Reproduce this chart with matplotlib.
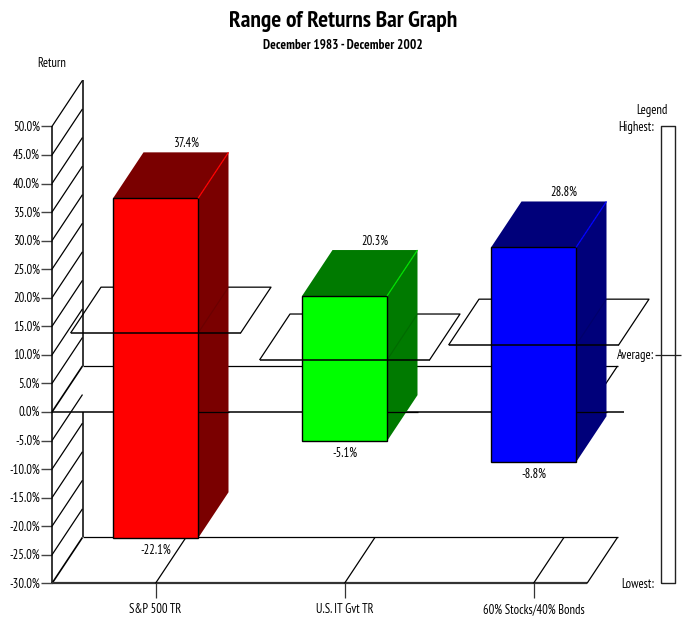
import matplotlib
matplotlib.use("Agg")
import matplotlib.pyplot as plt
from matplotlib.patches import Polygon

# Range of returns per portfolio, December 1983 - December 2002
categories = ["S&P 500 TR", "U.S. IT Gvt TR", "60% Stocks/40% Bonds"]
highest = [37.4, 20.3, 28.8]
lowest = [-22.1, -5.1, -8.8]
average = [13.8, 9.1, 11.7]
front_colors = ["#ff0000", "#00ff00", "#0000ff"]
shade_colors = ["#7a0000", "#007a00", "#00007a"]
edge_colors = ["#ff0000", "#00e000", "#0000ff"]
value_ticks = list(range(-30, 55, 5))

# Pseudo-3D geometry, in axis units
DX = 30.5 / 189
DV = 46 / 5.7125
BAR_HALF = 42.5 / 189
PLANE_HALF = 85 / 189
WALL_X = (52 - 155.5) / 189
FLOOR_END = (587 - 155.5) / 189
ZERO_END = (624 - 155.5) / 189
LW = 0.9
LABEL_SIZE = 9
LABEL_COLOR = "#000000"
TEXT_NUDGE = -0.8 / 5.7125

plt.rcParams["font.family"] = ["PT Sans Narrow", "Archivo Narrow", "Liberation Sans"]

fig = plt.figure(figsize=(6.83, 6.18), dpi=100)
ax = fig.add_axes([0, 0, 1, 1])
ax.set_xlim(-155.5 / 189, (683 - 155.5) / 189)
ax.set_ylim((412 - 618) / 5.7125, 412 / 5.7125)
ax.axis("off")


def xpx(px):
    return (px - 155.5) / 189


def seg(xs, ys, lw=LW, color="black", z=1, **kw):
    ax.plot(xs, ys, color=color, lw=lw, solid_capstyle="butt", zorder=z, **kw)


def label(x, y, s, ha="center", z=7):
    ax.text(x, y + TEXT_NUDGE, s, ha=ha, va="center", fontsize=LABEL_SIZE,
            color=LABEL_COLOR, zorder=z)


# Back wall with a diagonal rule for every tick
for v in value_ticks:
    seg([WALL_X, WALL_X + DX], [v, v + DV], lw=1.2 if v in (0, -30) else LW)
    seg([xpx(41), WALL_X], [v, v], color="#444444", lw=1.0)
    label(xpx(40), v, f"{v:.1f}%", ha="right")
seg([WALL_X, WALL_X], [-30, 50], lw=1.1)
seg([WALL_X + DX] * 2, [DV, 50 + DV], lw=1.1)
seg([WALL_X + DX] * 2, [-30 + DV, 0], lw=1.1)

# Floor of the chart
seg([WALL_X, FLOOR_END], [-30, -30], lw=1.6, color="#333333")
seg([WALL_X + DX, FLOOR_END + DX], [-30 + DV] * 2)
seg([FLOOR_END, FLOOR_END + DX], [-30, -30 + DV])

# Zero plane
seg([WALL_X, ZERO_END], [0, 0], lw=1.1)
seg([WALL_X + DX, FLOOR_END + DX], [DV, DV])
seg([FLOOR_END, FLOOR_END + DX], [0, DV])

# Category ticks along the floor
for i, name in enumerate(categories):
    seg([i, i + DX], [-30, -30 + DV])
    seg([i, i], [-30, -30 - 15 / 5.7125], color="#333333")
    label(i, -30 - 25 / 5.7125, name)

# Average planes, back and side edges sit behind the bars
for i, avg in enumerate(average):
    xl, xr = i - PLANE_HALF, i + PLANE_HALF
    seg([xl, xl + DX, xr + DX, xr], [avg, avg + DV, avg + DV, avg], z=2)

# Bars with their top and side faces
for i, (hi, lo) in enumerate(zip(highest, lowest)):
    xl, xr = i - BAR_HALF, i + BAR_HALF
    ax.add_patch(Polygon([(xl, hi), (xr, hi), (xr + DX, hi + DV), (xl + DX, hi + DV)],
                         fc=shade_colors[i], ec="none", zorder=3))
    ax.add_patch(Polygon([(xr, lo), (xr + DX, lo + DV), (xr + DX, hi + DV), (xr, hi)],
                         fc=shade_colors[i], ec="none", zorder=3))
    ax.add_patch(Polygon([(xl, lo), (xr, lo), (xr, hi), (xl, hi)],
                         fc=front_colors[i], ec="black", lw=1.0, zorder=4))
    seg([xr, xr + DX], [hi, hi + DV], color=edge_colors[i], z=5)
    # Faint traces of hidden lines on the side face
    avg = average[i]
    seg([xr, xr + DX], [avg, avg + DV], color="black", alpha=0.12, z=5)
    seg([xr, xr + DX], [0, 0], color="black", z=5)
    # The front edge of the average plane runs across the bar
    seg([i - PLANE_HALF, i + PLANE_HALF], [avg, avg], lw=1.1, z=6)
    label(i + DX, hi + DV + 10 / 5.7125, f"{hi:.1f}%")
    label(i, lo - 11.5 / 5.7125, f"{lo:.1f}%")

# Legend column on the right
box_l, box_r = xpx(661), xpx(675)
seg([box_l, box_l, box_r, box_r, box_l], [-30, 50, 50, -30, -30], lw=1.0, color="#222222")
seg([xpx(655), xpx(681)], [10, 10], color="#222222")
label(xpx(654), 50, "Highest:", ha="right")
label(xpx(654), 10, "Average:", ha="right")
label(xpx(654), -30, "Lowest:", ha="right")
label(xpx(668), (412 - 110) / 5.7125, "Legend", ha="right")
label(xpx(52), (412 - 63) / 5.7125, "Return")

# Titles
ax.text(xpx(343), (412 - 22) / 5.7125, "Range of Returns Bar Graph", ha="center", va="center",
        fontsize=16.8, fontweight="bold")
ax.text(xpx(343), (412 - 45.5) / 5.7125, "December 1983 - December 2002", ha="center", va="center",
        fontsize=9.5, fontweight="bold")

fig.savefig("out.png", dpi=100)
